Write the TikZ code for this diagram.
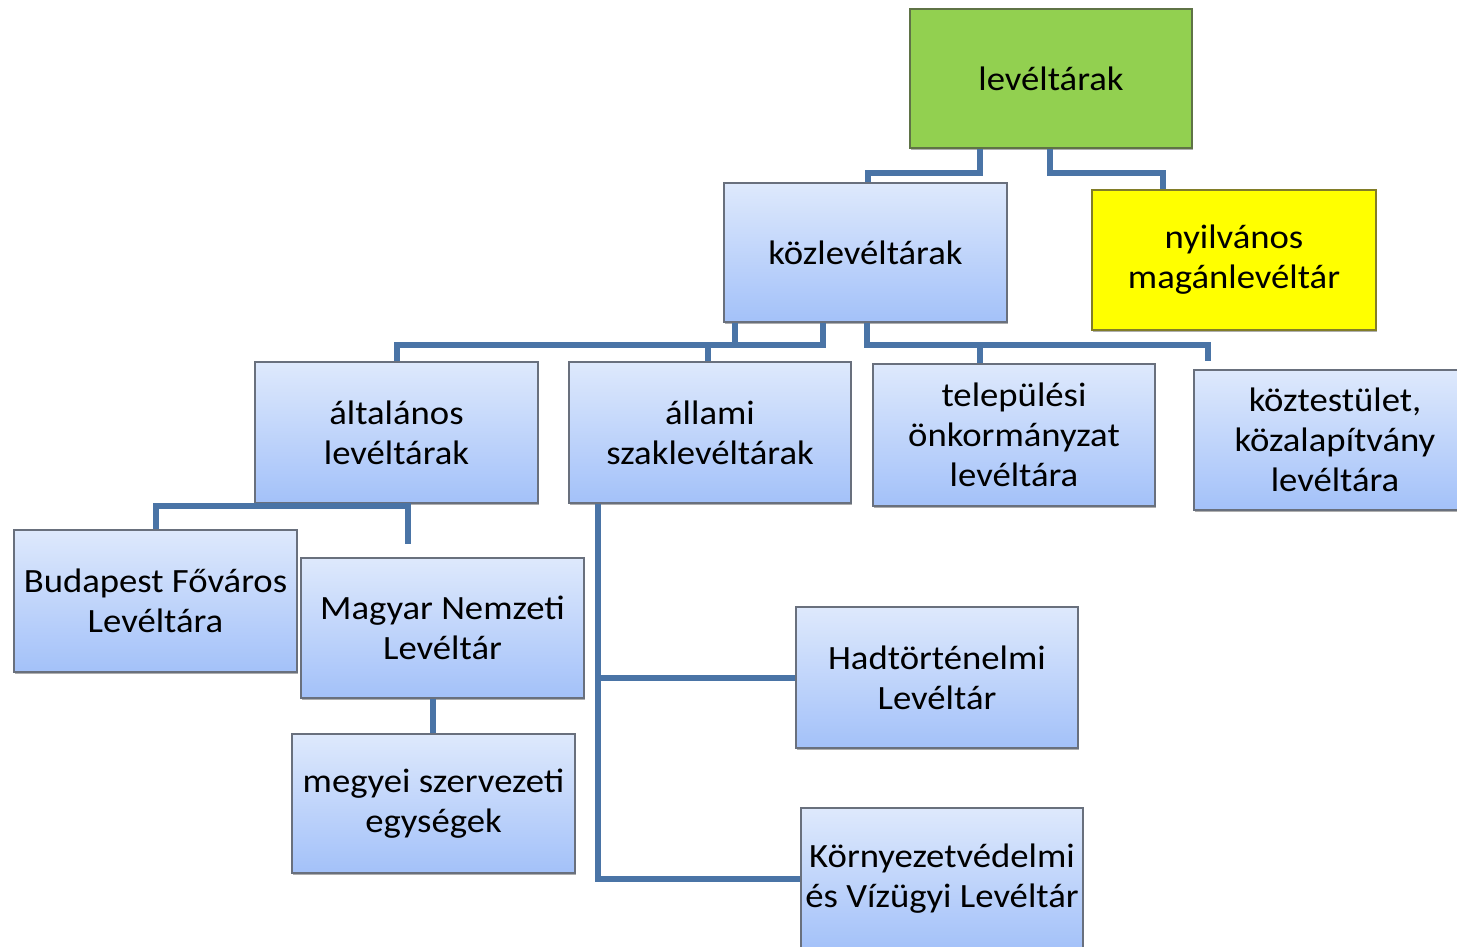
\documentclass[tikz,border=0pt]{standalone}
\usepackage{fontspec}
\setmainfont[FakeStretch=1.08]{Carlito}
\usetikzlibrary{calc,shadows}
\definecolor{conn}{RGB}{74,116,166}
\definecolor{boxtop}{RGB}{222,233,252}
\definecolor{boxbot}{RGB}{163,193,249}
\definecolor{boxline}{RGB}{105,112,125}
\definecolor{grn}{RGB}{146,208,80}
\definecolor{grnline}{RGB}{95,115,70}
\definecolor{yel}{RGB}{255,255,0}
\definecolor{yelline}{RGB}{130,125,40}
\tikzset{
  bluebox/.style={draw=boxline, line width=2pt, top color=boxtop, bottom color=boxbot,
    minimum width=282pt, minimum height=140pt, align=center, inner sep=2pt,
    drop shadow={shadow xshift=1pt, shadow yshift=-2pt, opacity=0.45, fill=black!70},
    font=\fontsize{34}{40}\selectfont},
  greenbox/.style={bluebox, fill=grn, draw=grnline, top color=grn, bottom color=grn},
  yellowbox/.style={bluebox, draw=yelline, top color=yel, bottom color=yel},
  conn/.style={draw=conn, line width=6pt, line cap=butt, line join=miter},
}
\begin{document}
\begin{tikzpicture}[x=1pt,y=-1pt]
\useasboundingbox (0,0) rectangle (1457,946);
% nodes
\node[greenbox, minimum width=282pt, minimum height=139pt] (lev) at (1051,78.5) {levéltárak};
\node[bluebox, minimum width=283pt, minimum height=139pt] (koz) at (865.5,252.5) {közlevéltárak};
\node[yellowbox, minimum width=284pt] (nyil) at (1234,260) {nyilvános\\magánlevéltár};
\node[bluebox, minimum width=283pt, minimum height=141pt] (alt) at (396.5,432.5) {általános\\levéltárak};
\node[bluebox, minimum height=141pt] (all) at (710,432.5) {állami\\szaklevéltárak};
\node[bluebox, minimum height=142pt] (tel) at (1014,435) {települési\\önkormányzat\\levéltára};
\node[bluebox] (kt) at (1335,440) {köztestület,\\közalapítvány\\levéltára};
\node[bluebox, minimum width=283pt, minimum height=142pt] (bud) at (155.5,601) {Budapest Főváros\\Levéltára};
\node[bluebox, minimum width=283pt] (mnl) at (442.5,628) {Magyar Nemzeti\\Levéltár};
\node[bluebox, minimum width=283pt, minimum height=139pt] (meg) at (433.5,803.5) {megyei szervezeti\\egységek};
\node[bluebox, minimum height=141pt] (had) at (937,677.5) {Hadtörténelmi\\Levéltár};
\node[bluebox, minimum height=142pt] (kor) at (942,879) {Környezetvédelmi\\és Vízügyi Levéltár};
% connectors
\draw[conn] ([xshift=-71pt]lev.south) -- ++(0,24) -| ([xshift=2.5pt]koz.north);
\draw[conn] ([xshift=-1pt]lev.south) -- ++(0,24) -| ([xshift=-71pt]nyil.north);
\draw[conn] ([xshift=-130.5pt]koz.south) -- ++(0,22) -| (alt.north);
\draw[conn] ([xshift=-42.5pt]koz.south) -- ++(0,22) -| ([xshift=-2pt]all.north);
\draw[conn] ([xshift=1.5pt]koz.south) -- ++(0,22) -| ([xshift=-34pt]tel.north);
\coordinate (ktend) at ([xshift=-127pt,yshift=8pt]kt.north);
\draw[conn] ([xshift=1.5pt]koz.south) -- ++(0,22) -| (ktend);
\coordinate (altend) at ([xshift=11.5pt,yshift=-40pt]alt.south);
\draw[conn] (bud.north) -- ++(0,-23) -| (altend);
\draw[conn] ([xshift=-10pt]mnl.south) -- ([xshift=-10pt]mnl.south |- meg.north);
\coordinate (allfoot) at ([xshift=-112pt]all.south);
\draw[conn] (allfoot) |- (kor.west);
\draw[conn] (had.west) -- (had.west -| allfoot);
\end{tikzpicture}
\end{document}
